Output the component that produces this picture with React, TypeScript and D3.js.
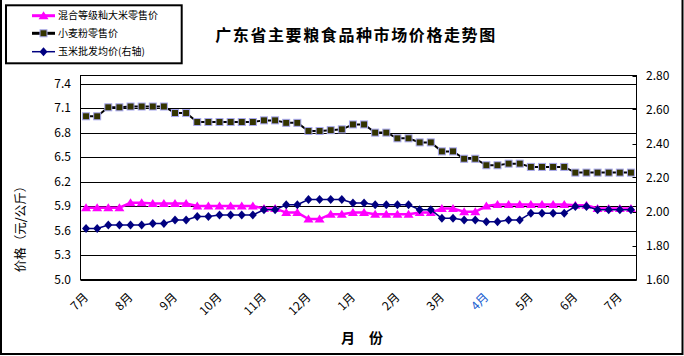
import React from "react";
import * as d3 from "d3";

const monthLabels = ["7月", "8月", "9月", "10月", "11月", "12月", "1月", "2月", "3月", "4月", "5月", "6月", "7月"];
const highlightLabelIndex = 9;

const riceRetail = [
  5.88, 5.88, 5.88, 5.88, 5.94, 5.94, 5.93, 5.93, 5.93, 5.93,
  5.9, 5.9, 5.9, 5.9, 5.9, 5.9, 5.87, 5.87, 5.82, 5.82,
  5.74, 5.74, 5.8, 5.8, 5.82, 5.82, 5.8, 5.8, 5.8, 5.8,
  5.82, 5.82, 5.87, 5.87, 5.83, 5.83, 5.9, 5.92, 5.92, 5.92,
  5.92, 5.92, 5.92, 5.92, 5.91, 5.91, 5.87, 5.87, 5.87, 5.87,
];
const flourRetail = [
  7.0, 7.0, 7.11, 7.11, 7.12, 7.12, 7.12, 7.12, 7.04, 7.04,
  6.93, 6.93, 6.93, 6.93, 6.93, 6.93, 6.95, 6.95, 6.92, 6.92,
  6.82, 6.82, 6.83, 6.84, 6.9, 6.9, 6.8, 6.8, 6.73, 6.73,
  6.68, 6.68, 6.57, 6.57, 6.48, 6.48, 6.4, 6.4, 6.42, 6.42,
  6.38, 6.38, 6.38, 6.38, 6.31, 6.31, 6.31, 6.31, 6.31, 6.31,
];
const cornWholesale = [
  1.9, 1.9, 1.92, 1.92, 1.92, 1.92, 1.93, 1.93, 1.95, 1.95,
  1.97, 1.97, 1.98, 1.98, 1.98, 1.98, 2.01, 2.01, 2.04, 2.04,
  2.07, 2.07, 2.07, 2.07, 2.05, 2.05, 2.04, 2.04, 2.04, 2.04,
  2.01, 2.01, 1.96, 1.96, 1.95, 1.95, 1.94, 1.94, 1.95, 1.95,
  1.99, 1.99, 1.99, 1.99, 2.03, 2.03, 2.01, 2.01, 2.01, 2.01,
];
const leftTicks = [5.0, 5.3, 5.6, 5.9, 6.2, 6.5, 6.8, 7.1, 7.4];
const rightTicks = [1.6, 1.8, 2.0, 2.2, 2.4, 2.6, 2.8];
const legendNames = ["混合等级籼大米零售价", "小麦粉零售价", "玉米批发均价(右轴)"];

const W = 684;
const H = 356;
const PL = 80.5;
const PR = 636.5;
const PT = 75.5;
const PB = 279.5;
const FONT = "'Noto Sans CJK SC', 'Noto Sans', sans-serif";

const triPath = (x: number, y: number) => `M${x},${y - 4.5}L${x + 5},${y + 3.5}L${x - 5},${y + 3.5}Z`;
const diaPath = (x: number, y: number) => `M${x},${y - 4.5}L${x + 4},${y}L${x},${y + 4.5}L${x - 4},${y}Z`;

export default function App() {
  const idx = d3.range(riceRetail.length);
  const x = d3.scaleBand<number>().domain(idx).range([PL, PR]);
  const cx = (i: number) => (x(i) as number) + x.bandwidth() / 2;
  const yL = d3.scaleLinear().domain([5.0, 7.5]).range([PB, PT]);
  const yR = d3.scaleLinear().domain([1.6, 2.8]).range([PB, PT]);

  const lineL = d3.line<number>().x((_, i) => cx(i)).y((d) => yL(d));
  const lineR = d3.line<number>().x((_, i) => cx(i)).y((d) => yR(d));

  return (
    <svg width={W} height={H} style={{ position: "absolute", left: 0, top: 0, background: "#fff" }} fontFamily={FONT}>
      <rect x={0} y={0} width={W} height={H} fill="#fff" />
      <rect x={1} y={-2} width={681.5} height={356} fill="none" stroke="#000" strokeWidth={2} />

      <text x={356} y={41} textAnchor="middle" fontSize={16} fontWeight="bold" letterSpacing={1.6}>
        广东省主要粮食品种市场价格走势图
      </text>

      {leftTicks.map((t) => (
        <line key={"g" + t} x1={PL} x2={PR} y1={Math.round(yL(t)) + 0.5} y2={Math.round(yL(t)) + 0.5} stroke="#000" strokeWidth={1} />
      ))}
      <rect x={PL} y={PT} width={PR - PL} height={PB - PT} fill="none" stroke="#000" strokeWidth={1} />

      {rightTicks.map((t) => (
        <line key={"rt" + t} x1={PR - 4} x2={PR} y1={Math.round(yR(t)) + 0.5} y2={Math.round(yR(t)) + 0.5} stroke="#000" />
      ))}

      {leftTicks.map((t) => (
        <text key={"l" + t} x={71} y={yL(t)} dy="0.35em" textAnchor="end" fontSize={12}>
          {t.toFixed(1)}
        </text>
      ))}
      {rightTicks.map((t) => (
        <text key={"r" + t} x={646} y={yR(t)} dy="0.35em" textAnchor="start" fontSize={12}>
          {t.toFixed(2)}
        </text>
      ))}

      <text transform="translate(21,226) rotate(-90)" textAnchor="middle" dy="0.35em" fontSize={12.5}>
        价格（元/公斤）
      </text>

      {monthLabels.map((m, k) => {
        const px = cx(k * 4);
        return (
          <text
            key={"m" + k}
            transform={`translate(${px},${295}) rotate(-45)`}
            textAnchor="end"
            dy="0.35em"
            fontSize={12}
            fill={k === highlightLabelIndex ? "#2060d0" : "#000"}
          >
            {m}
          </text>
        );
      })}
      <text x={362} y={343} textAnchor="middle" fontSize={14} fontWeight="bold">
        月　份
      </text>

      <path d={lineL(riceRetail) || ""} fill="none" stroke="#ff00ff" strokeWidth={2.5} />
      {riceRetail.map((v, i) => (
        <path key={"p" + i} d={triPath(cx(i), yL(v))} fill="#ff00ff" />
      ))}
      <path d={lineL(flourRetail) || ""} fill="none" stroke="#000" strokeWidth={2} />
      {flourRetail.map((v, i) => (
        <rect key={"s" + i} x={cx(i) - 3.5} y={yL(v) - 3.5} width={7} height={7} fill="#333300" stroke="#a8a8f0" strokeWidth={1} />
      ))}
      <path d={lineR(cornWholesale) || ""} fill="none" stroke="#000080" strokeWidth={1.5} />
      {cornWholesale.map((v, i) => (
        <path key={"d" + i} d={diaPath(cx(i), yR(v))} fill="#000080" />
      ))}

      <rect x={6} y={5.3} width={175.7} height={58} fill="#fff" stroke="#000" strokeWidth={2} />
      <g>
        <line x1={32} x2={55} y1={15.7} y2={15.7} stroke="#ff00ff" strokeWidth={3} />
        <path d={triPath(43.5, 15.7)} fill="#ff00ff" />
        <text x={58} y={15.7} dy="0.35em" fontSize={10}>{legendNames[0]}</text>

        <line x1={32} x2={55} y1={33.3} y2={33.3} stroke="#000" strokeWidth={3} />
        <rect x={40} y={29.8} width={7} height={7} fill="#333300" stroke="#a8a8f0" strokeWidth={1} />
        <text x={58} y={33.3} dy="0.35em" fontSize={10}>{legendNames[1]}</text>

        <line x1={32} x2={55} y1={51.7} y2={51.7} stroke="#000080" strokeWidth={1.5} />
        <path d={diaPath(43.5, 51.7)} fill="#000080" />
        <text x={58} y={51.7} dy="0.35em" fontSize={10}>{legendNames[2]}</text>
      </g>
    </svg>
  );
}
